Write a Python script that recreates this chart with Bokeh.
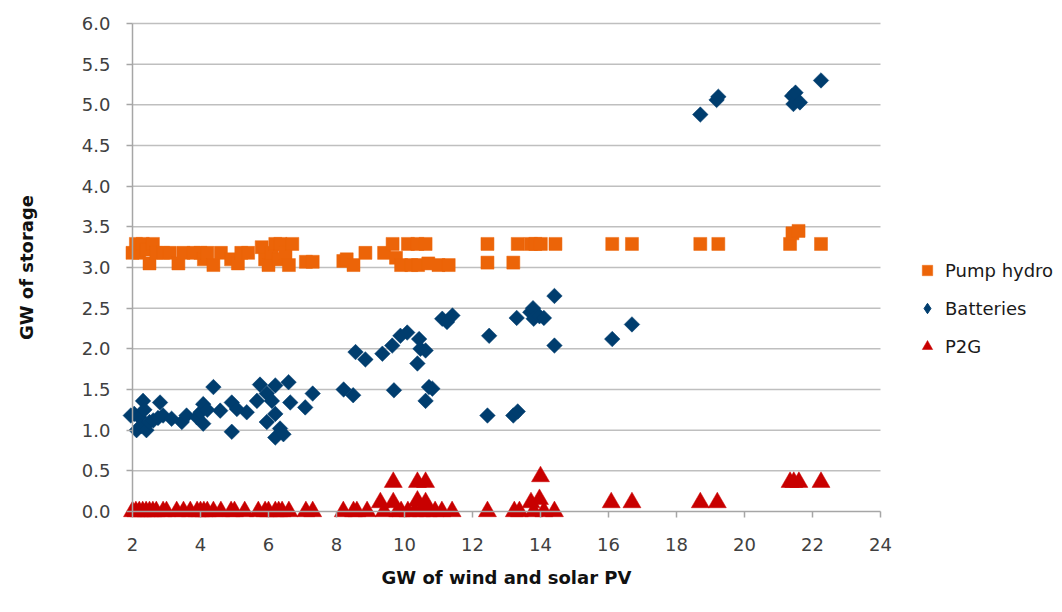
import math
from bokeh.plotting import figure
from bokeh.models import Legend, LegendItem, FixedTicker, NumeralTickFormatter, Range1d
from bokeh.embed import file_html
from bokeh.resources import INLINE

# ---- data ----
pump_x = [2.0, 2.1, 2.2, 2.3, 2.4, 2.5, 2.6, 2.7, 2.9, 3.1, 3.35, 3.5, 3.8, 4.0, 4.1, 4.2, 4.38,
          4.6, 4.9, 5.1, 5.2, 5.4, 5.8, 5.9, 6.0, 6.1, 6.2, 6.3, 6.35, 6.5, 6.6, 6.7, 7.1, 7.3,
          8.2, 8.3, 8.5, 8.85, 9.4, 9.65, 9.75, 9.9, 10.1, 10.2, 10.38, 10.4, 10.62, 10.7, 11.0,
          11.3, 12.44, 12.44, 13.2, 13.33, 13.72, 13.85, 14.01, 14.44, 16.11, 16.69, 18.7, 19.23,
          21.34, 21.41, 21.59, 22.25]
pump_y = [3.18, 3.29, 3.18, 3.29, 3.22, 3.05, 3.29, 3.18, 3.18, 3.18, 3.05, 3.18, 3.18, 3.18, 3.1,
          3.18, 3.03, 3.18, 3.1, 3.05, 3.18, 3.18, 3.25, 3.1, 3.03, 3.18, 3.29, 3.1, 3.29, 3.18,
          3.03, 3.29, 3.07, 3.07, 3.08, 3.1, 3.03, 3.18, 3.18, 3.29, 3.12, 3.03, 3.29, 3.03, 3.29,
          3.03, 3.29, 3.05, 3.03, 3.03, 3.29, 3.06, 3.06, 3.29, 3.29, 3.29, 3.29, 3.29, 3.29, 3.29,
          3.29, 3.29, 3.29, 3.42, 3.45, 3.29]

batt_x = [1.95, 2.05, 2.12, 2.2, 2.25, 2.31, 2.35, 2.41, 2.5, 2.61, 2.75, 2.81, 2.9, 3.15, 3.45,
          3.59, 3.89, 4.0, 4.08, 4.08, 4.2, 4.38, 4.58, 4.92, 4.92, 5.07, 5.36, 5.66, 5.75, 5.95,
          5.95, 6.1, 6.2, 6.2, 6.2, 6.34, 6.44, 6.59, 6.64, 7.08, 7.3, 8.21, 8.49, 8.56, 8.85,
          9.35, 9.64, 9.69, 9.88, 10.08, 10.38, 10.43, 10.47, 10.62, 10.62, 10.72, 10.82, 11.11,
          11.25, 11.41, 12.44, 12.49, 13.2, 13.3, 13.33, 13.7, 13.78, 13.8, 13.97, 14.1, 14.41,
          14.41, 16.11, 16.69, 18.7, 19.18, 19.23, 21.4, 21.44, 21.5, 21.63, 22.25]
batt_y = [1.18, 1.2, 1.0, 1.16, 1.05, 1.36, 1.25, 1.0, 1.1, 1.12, 1.15, 1.34, 1.18, 1.14, 1.1,
          1.18, 1.16, 1.22, 1.32, 1.08, 1.25, 1.53, 1.24, 0.98, 1.34, 1.26, 1.22, 1.36, 1.56, 1.45,
          1.1, 1.36, 1.55, 1.2, 0.91, 1.02, 0.95, 1.59, 1.34, 1.28, 1.45, 1.5, 1.43, 1.96, 1.87,
          1.94, 2.04, 1.49, 2.16, 2.2, 1.82, 2.12, 2.0, 1.98, 1.36, 1.53, 1.51, 2.37, 2.33, 2.41,
          1.18, 2.16, 1.18, 2.38, 1.23, 2.45, 2.5, 2.37, 2.4, 2.38, 2.65, 2.04, 2.12, 2.3, 4.88,
          5.06, 5.1, 5.11, 5.01, 5.15, 5.03, 5.3]

p2g_x = [2.0, 2.1, 2.2, 2.3, 2.4, 2.5, 2.6, 2.7, 2.9, 3.0, 3.3, 3.5, 3.7, 3.9, 4.0, 4.1, 4.2,
         4.38, 4.6, 4.9, 5.0, 5.3, 5.7, 5.9, 6.0, 6.2, 6.3, 6.4, 6.6, 7.1, 7.3, 8.2, 8.5, 8.6,
         8.9, 9.29, 9.4, 9.67, 9.67, 9.8, 9.9, 10.1, 10.3, 10.38, 10.38, 10.5, 10.62, 10.62, 10.7,
         10.9, 11.1, 11.4, 12.44, 13.23, 13.38, 13.72, 13.8, 13.97, 14.0, 14.1, 14.41, 16.08,
         16.69, 18.7, 19.2, 21.34, 21.45, 21.6, 22.25]
p2g_y = [0.0, 0.0, 0.0, 0.0, 0.0, 0.0, 0.0, 0.0, 0.0, 0.0, 0.0, 0.0, 0.0, 0.0, 0.0, 0.0, 0.0,
         0.0, 0.0, 0.0, 0.0, 0.0, 0.0, 0.0, 0.0, 0.0, 0.0, 0.0, 0.0, 0.0, 0.0, 0.0, 0.0, 0.0,
         0.0, 0.11, 0.0, 0.36, 0.11, 0.0, 0.0, 0.0, 0.0, 0.36, 0.13, 0.0, 0.36, 0.11, 0.0,
         0.0, 0.0, 0.0, 0.0, 0.0, 0.0, 0.11, 0.0, 0.15, 0.43, 0.0, 0.0, 0.11,
         0.11, 0.11, 0.11, 0.36, 0.36, 0.36, 0.36]

series_names = ["Pump hydro", "Batteries", "P2G"]
x_ticks = [2, 4, 6, 8, 10, 12, 14, 16, 18, 20, 22, 24]
y_ticks = [0.0, 0.5, 1.0, 1.5, 2.0, 2.5, 3.0, 3.5, 4.0, 4.5, 5.0, 5.5, 6.0]

FONT = "DejaVu Sans"
TICK_COL = "#404040"
GRID_COL = "#bfbfbf"
AXIS_COL = "#a6a6a6"
ORANGE = "#EC6408"
NAVY = "#003D6E"
RED = "#C80000"

W, H = 1062, 612
PX_X = 34.0      # pixels per x unit
PX_Y = 81.333    # pixels per y unit
X0_PX = 132.0    # x=2 position inside the figure
Y0_PX = 511.0    # y=0 position from the figure top

# the frame covers the whole figure so that nothing is clipped; axes sit at x=2 and y=0
x_lo = x_ticks[0] - X0_PX / PX_X
y_lo = y_ticks[0] - (H - Y0_PX) / PX_Y
p = figure(width=W, height=H, output_backend="svg", toolbar_location=None,
           x_range=Range1d(x_lo, x_lo + W / PX_X),
           y_range=Range1d(y_lo, y_lo + H / PX_Y),
           min_border_left=0, min_border_right=0, min_border_top=0, min_border_bottom=0)
p.outline_line_color = None
p.background_fill_color = "white"
p.border_fill_color = "white"

grid_y = [t for t in y_ticks if t > 0]
p.segment(x0=[x_ticks[0]] * len(grid_y), x1=[x_ticks[-1]] * len(grid_y), y0=grid_y, y1=grid_y,
          line_color=GRID_COL, line_width=1.5)

r_pump = p.scatter(pump_x, pump_y, marker="square", size=13, fill_color=ORANGE,
                   line_color=ORANGE, line_width=0.5)
r_batt = p.scatter(batt_x, batt_y, marker="square", size=11, angle=math.pi / 4,
                   fill_color=NAVY, line_color=NAVY, line_width=0.5)
r_p2g = p.scatter(p2g_x, p2g_y, marker="triangle", size=18, fill_color=RED,
                  line_color=RED, line_width=0.5)
# legend proxy for the diamond marker (legend glyphs ignore angle)
r_batt_leg = p.scatter([float("nan")], [float("nan")], marker="diamond", size=11,
                       fill_color=NAVY, line_color=NAVY)

# axes
p.xaxis.ticker = FixedTicker(ticks=x_ticks)
p.yaxis.ticker = FixedTicker(ticks=y_ticks)
p.yaxis.formatter = NumeralTickFormatter(format="0.0")
p.xaxis.fixed_location = 0
p.yaxis.fixed_location = 2
p.xaxis.bounds = (x_ticks[0], x_ticks[-1])
p.yaxis.bounds = (y_ticks[0], y_ticks[-1])
for ax in (p.xaxis, p.yaxis):
    ax.major_label_text_font = FONT
    ax.major_label_text_font_size = "18px"
    ax.major_label_text_color = TICK_COL
    ax.axis_line_color = AXIS_COL
    ax.axis_line_width = 1.5
    ax.major_tick_line_color = AXIS_COL
    ax.major_tick_line_width = 1.5
    ax.major_tick_in = 0
    ax.major_tick_out = 6
    ax.minor_tick_line_color = None
    ax.axis_label_text_font = FONT
    ax.axis_label_text_font_style = "bold"
    ax.axis_label_text_font_size = "18px"
    ax.axis_label_text_color = "#111111"

p.xaxis.axis_label = "GW of wind and solar PV"
p.yaxis.axis_label = "GW of storage"
p.xaxis.major_label_standoff = 20
p.yaxis.major_label_standoff = 16
p.xaxis.axis_label_standoff = 13
p.yaxis.axis_label_standoff = 42

p.xgrid.grid_line_color = None
p.ygrid.grid_line_color = None

legend = Legend(items=[LegendItem(label=series_names[0], renderers=[r_pump]),
                       LegendItem(label=series_names[1], renderers=[r_batt_leg]),
                       LegendItem(label=series_names[2], renderers=[r_p2g])],
                location=(914, 253))
legend.label_text_font = FONT
legend.label_text_font_size = "18px"
legend.label_text_color = "#1a1a1a"
legend.border_line_color = None
legend.background_fill_alpha = 0
legend.padding = 0
legend.margin = 0
legend.spacing = 12
legend.glyph_height = 26
legend.glyph_width = 26
legend.label_height = 26
legend.label_standoff = 5
p.add_layout(legend, "center")

open("out.html", "w").write(file_html(p, INLINE))
